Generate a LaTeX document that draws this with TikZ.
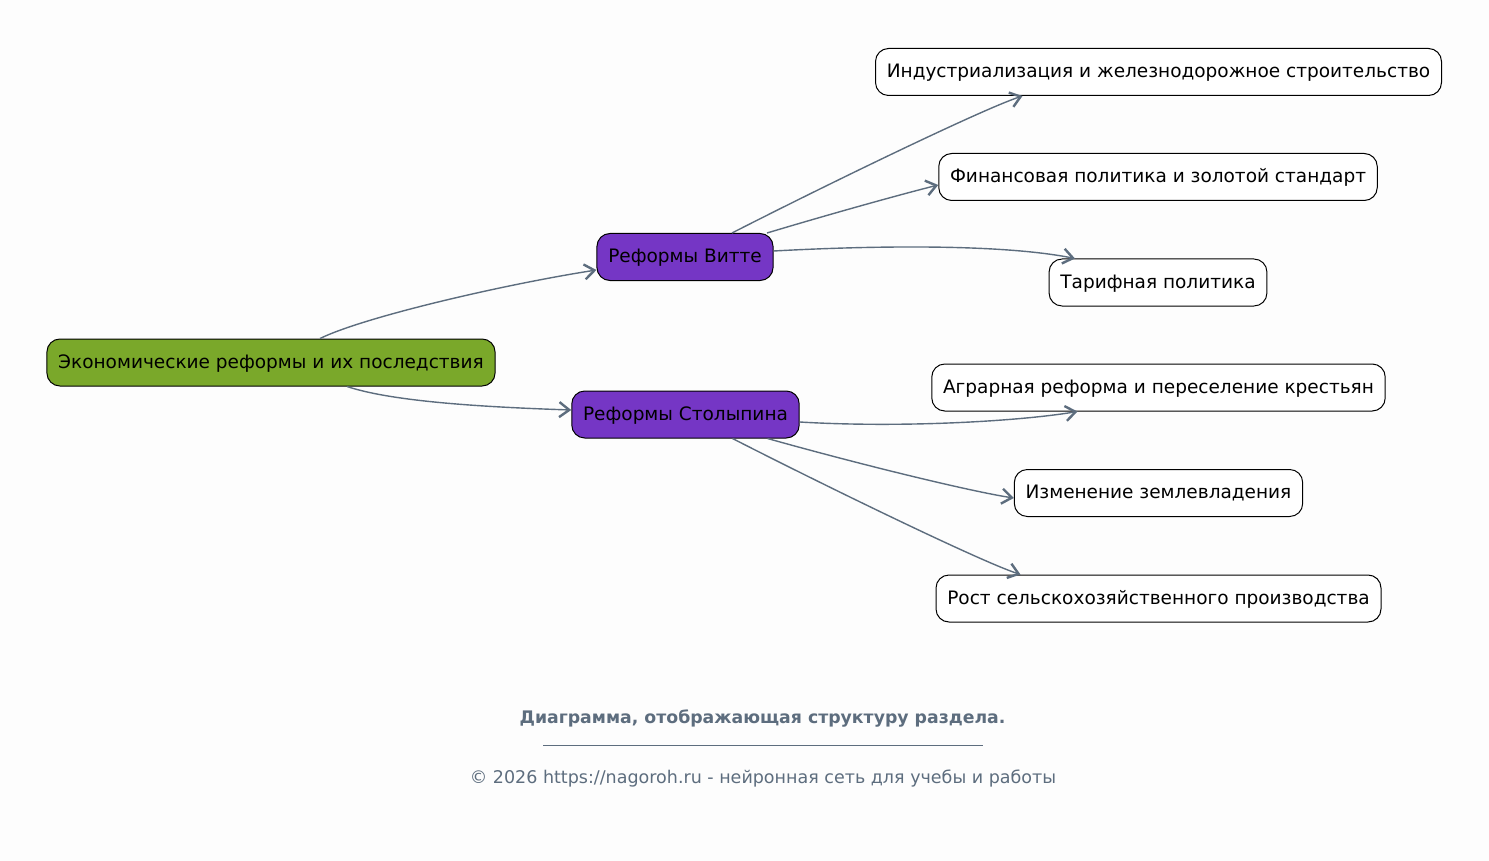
\documentclass[tikz,border=0pt]{standalone}
\usepackage{fontspec}
\setmainfont{DejaVu Sans}
\usetikzlibrary{arrows.meta}
\definecolor{bg}{HTML}{FDFDFD}
\definecolor{rootfill}{HTML}{7AA82A}
\definecolor{midfill}{HTML}{7536C5}
\definecolor{edge}{HTML}{5D6D7E}
\tikzset{
  box/.style={draw=black, line width=1pt, rounded corners=13pt, minimum height=47pt,
    inner xsep=11.3pt, text height=14pt, text depth=2.5pt,
    font=\fontsize{18.5}{22}\selectfont, text=black, anchor=center},
  rootbox/.style={box, fill=rootfill},
  midbox/.style={box, fill=midfill},
  leafbox/.style={box, fill=white},
  conn/.style={draw=edge, line width=1.4pt, -{Straight Barb[length=10pt,width=15pt,line width=2.4pt]}},
}
\begin{document}
\begin{tikzpicture}[x=1pt,y=-1pt]
\fill[bg] (0,0) rectangle (1489,861);
\useasboundingbox (0,0) rectangle (1489,861);

\node[rootbox] (root) at (271,362.5) {Экономические реформы и их последствия};
\node[midbox] (witte) at (685,257) {Реформы Витте};
\node[midbox] (stol) at (685.5,414.5) {Реформы Столыпина};

\node[leafbox] (l1) at (1158.5,72) {Индустриализация и железнодорожное строительство};
\node[leafbox] (l2) at (1158,177) {Финансовая политика и золотой стандарт};
\node[leafbox] (l3) at (1158,282.5) {Тарифная политика};
\node[leafbox] (l4) at (1158.5,387.5) {Аграрная реформа и переселение крестьян};
\node[leafbox] (l5) at (1158.5,493) {Изменение землевладения};
\node[leafbox] (l6) at (1158.5,598.5) {Рост сельскохозяйственного производства};

\draw[conn] ([xshift=49pt]root.north) .. controls +(45,-22) and +(-90,14) .. ([yshift=-13pt]witte.west);
\draw[conn] ([xshift=76pt]root.south) .. controls +(45,15) and +(-90,-3) .. ([yshift=4.5pt]stol.west);

\draw[conn] ([xshift=47pt]witte.north) .. controls +(90,-46) and +(-40,13) .. ([xshift=-136pt]l1.south);
\draw[conn] ([xshift=82pt]witte.north) .. controls +(60,-18) and +(-40,10) .. ([yshift=-8pt]l2.west);
\draw[conn] ([yshift=6pt]witte.east) .. controls +(110,-6) and +(-70,-14) .. ([xshift=-83pt]l3.north);

\draw[conn] ([yshift=-7.5pt]stol.east) .. controls +(100,6) and +(-60,10) .. ([xshift=-81pt]l4.south);
\draw[conn] ([xshift=82pt]stol.south) .. controls +(100,28) and +(-40,-6) .. ([yshift=-5pt]l5.west);
\draw[conn] ([xshift=47pt]stol.south) .. controls +(90,46) and +(-40,-13) .. ([xshift=-138pt]l6.north);

\node[font=\fontsize{17.3}{20}\bfseries\selectfont, text=edge] (cap) at (762.5,719) {Диаграмма, отображающая структуру раздела.};
\coordinate (rl) at (543,745);
\coordinate (rr) at (983,745);
\draw[edge, line width=0.8pt] (rl) -- (rr);
\node[font=\fontsize{17.5}{20}\selectfont, text=edge] (foot) at (763,779) {© 2026 https://nagoroh.ru - нейронная сеть для учебы и работы};
\end{tikzpicture}
\end{document}
